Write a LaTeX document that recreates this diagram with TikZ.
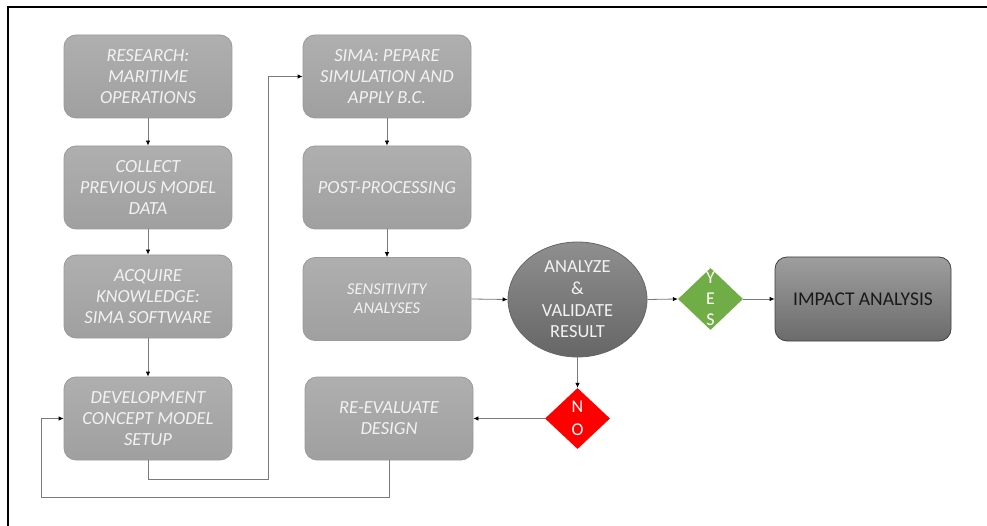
\documentclass[tikz,border=0pt]{standalone}
\usepackage{fontspec}
\setmainfont{Carlito}
\usetikzlibrary{shapes.geometric,arrows.meta}
\definecolor{boxfill}{HTML}{A8A8A8}
\definecolor{boxline}{HTML}{9A9A9A}
\definecolor{linkcol}{HTML}{7A7A7A}
\definecolor{yesgreen}{HTML}{70AD47}
\definecolor{nored}{HTML}{FF0000}
\definecolor{txtlight}{HTML}{F2F2F2}
\tikzset{
  stepbox/.style={draw=boxline, line width=0.8pt, top color=boxfill!92!white, bottom color=boxfill!95!black,
    rounded corners=12pt, minimum width=168pt, minimum height=83pt, align=center,
    text=txtlight, inner sep=2pt,
    font=\fontsize{18.5}{21}\selectfont\itshape},
  smallbox/.style={stepbox, font=\fontsize{16.5}{19}\selectfont\itshape},
  decide/.style={ellipse, draw=black!60, line width=0.8pt, top color=black!44, bottom color=black!60,
    minimum width=139pt, minimum height=115pt, inner sep=0pt, align=center, text=txtlight,
    font=\fontsize{18.5}{21.7}\selectfont},
  gate/.style={diamond, draw=none, minimum width=65pt, minimum height=62pt, inner sep=0pt,
    text=white, font=\fontsize{18}{21}\selectfont},
  impbox/.style={draw=black!75, line width=0.8pt, top color=black!38, bottom color=black!58,
    rounded corners=12pt, minimum width=176pt, minimum height=84pt, align=center,
    text=black!90, font=\fontsize{19.5}{22}\selectfont},
  link/.style={draw=linkcol, line width=0.8pt, -{Latex[length=5pt,width=4.5pt,color=black]}},
}
\begin{document}
\begin{tikzpicture}[x=1pt,y=-1pt]
\useasboundingbox (0,0) rectangle (987,526);
\draw[line width=2pt] (8,527) -- (8,7) -- (988,7);

\node[stepbox] (r1) at (148,76.5) {RESEARCH:\\MARITIME\\OPERATIONS};
\node[stepbox] (r2) at (148,187.5) {COLLECT\\PREVIOUS MODEL\\DATA};
\node[stepbox] (r3) at (148,296.5) {ACQUIRE\\KNOWLEDGE:\\SIMA SOFTWARE};
\node[stepbox] (r4) at (148,418.5) {DEVELOPMENT\\CONCEPT MODEL\\SETUP};

\node[stepbox] (s1) at (387,76.5) {SIMA: PEPARE\\SIMULATION AND\\APPLY B.C.};
\node[stepbox] (s2) at (387,187.5) {POST-PROCESSING};
\node[smallbox] (s3) at (387,299) {SENSITIVITY\\ANALYSES};
\node[stepbox] (re) at (389,418.5) {RE-EVALUATE\\DESIGN};

\node[decide] (ev) at (577.5,299.5) {ANALYZE\\\&\\VALIDATE\\RESULT};
\node[gate, fill=yesgreen] (yes) at (710.5,299) {\smash{\raisebox{-6pt}{\begin{tabular}{@{}c@{}}Y\\[0pt]E\\[0pt]S\end{tabular}}}};
\node[gate, fill=nored, minimum height=61pt] (no) at (577.5,418.5) {\smash{\raisebox{-6pt}{\begin{tabular}{@{}c@{}}N\\[2pt]O\end{tabular}}}};
\node[impbox] (imp) at (863,299) {IMPACT ANALYSIS};

\coordinate (c1) at (268,479);
\coordinate (c2) at (41,497);

\draw[link] (r1.south) -- (r2.north);
\draw[link] (r2.south) -- (r3.north);
\draw[link] (r3.south) -- (r4.north);
\draw[link] (r4.south) |- (c1) |- (s1.west);
\draw[link] (s1.south) -- (s2.north);
\draw[link] (s2.south) -- (s3.north);
\draw[link] (s3.east) -- (ev.west);
\draw[link] (ev.east) -- (yes.west);
\draw[link] (yes.east) -- (imp.west);
\draw[link] (ev.south) -- (no.north);
\draw[link] (no.west) -- (re.east);
\draw[link] (re.south) |- (c2) |- (r4.west);
\end{tikzpicture}
\end{document}
